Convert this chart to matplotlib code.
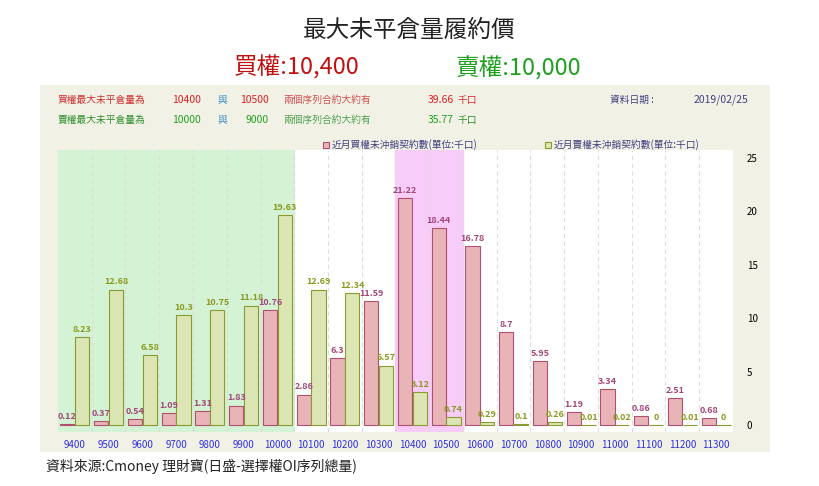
import matplotlib
matplotlib.use("Agg")
import matplotlib.pyplot as plt
from matplotlib import font_manager
import numpy as np

cjk = [f.name for f in font_manager.fontManager.ttflist if "CJK" in f.name]
pref = [nm for nm in ["Noto Sans CJK TC", "Noto Sans CJK JP", "Noto Sans CJK SC"] if nm in cjk]
if not pref:
    for path in font_manager.findSystemFonts():
        if "CJK" in path or "cjk" in path.lower():
            try:
                font_manager.fontManager.addfont(path)
            except Exception:
                pass
    cjk = [f.name for f in font_manager.fontManager.ttflist if "CJK" in f.name]
    pref = sorted(set(cjk))
plt.rcParams["font.family"] = pref + ["DejaVu Sans"]

strikes = ["9400","9500","9600","9700","9800","9900","10000","10100","10200","10300",
           "10400","10500","10600","10700","10800","10900","11000","11100","11200","11300"]
calls = [0.12,0.37,0.54,1.09,1.31,1.83,10.76,2.86,6.3,11.59,21.22,18.44,16.78,8.7,5.95,1.19,3.34,0.86,2.51,0.68]
puts = [8.23,12.68,6.58,10.3,10.75,11.18,19.63,12.69,12.34,5.57,3.12,0.74,0.29,0.1,0.26,0.01,0.02,0,0.01,0]
call_labels = ["0.12","0.37","0.54","1.09","1.31","1.83","10.76","2.86","6.3","11.59","21.22","18.44","16.78","8.7","5.95","1.19","3.34","0.86","2.51","0.68"]
put_labels = ["8.23","12.68","6.58","10.3","10.75","11.18","19.63","12.69","12.34","5.57","3.12","0.74","0.29","0.1","0.26","0.01","0.02","0","0.01","0"]
yticks = [0,5,10,15,20,25]

W, H = 819, 486
fig = plt.figure(figsize=(W/100, H/100), dpi=100)
fig.patch.set_facecolor("white")

panel = fig.add_axes([40/W, 1-452/H, 730/W, 367/H])
panel.set_facecolor("#F2F1E6")
panel.set_xticks([]); panel.set_yticks([])
for s in panel.spines.values(): s.set_visible(False)

ax = fig.add_axes([58/W, 1-432/H, 675/W, 282/H])
n = len(strikes)
x = np.arange(n)
ax.set_xlim(-0.5, n-0.5)
ax.set_ylim(-0.65, 25.75)
ax.set_facecolor("white")
ax.axvspan(-0.5, 6.5, color="#D4F2D4", zorder=0)
ax.axvspan(9.5, 11.5, color="#F8CCF8", zorder=0)
for b in np.arange(0.5, n-0.5, 1):
    ax.axvline(b, color="#DDDDDD", lw=0.8, ls=(0,(4,3)), zorder=0.5)

w = 0.42
ax.bar(x-0.22, calls, w, color="#E8B4B8", edgecolor="#B05070", lw=0.8, zorder=2)
ax.bar(x+0.22, puts, w, color="#DCE6B4", edgecolor="#8A9A30", lw=0.8, zorder=2)
for i in range(n):
    ax.text(x[i]-0.22, calls[i]+0.3, call_labels[i], ha="center", va="bottom",
            fontsize=6.5, color="#A04878", fontweight="bold", zorder=3)
    ax.text(x[i]+0.22, puts[i]+0.3, put_labels[i], ha="center", va="bottom",
            fontsize=6.5, color="#8A9A20", fontweight="bold", zorder=3)

ax.yaxis.tick_right()
ax.set_yticks(yticks)
ax.tick_params(axis="y", length=0, labelsize=7, pad=10)
ax.set_xticks(x)
ax.set_xticklabels(strikes, color="#3030E0", fontsize=7)
ax.tick_params(axis="x", length=0, pad=6)
for s in ax.spines.values(): s.set_visible(False)

fig.text(0.5, 1-30/H, "最大未平倉量履約價", ha="center", va="center", fontsize=17, color="#222222")
fig.text(297/W, 1-68/H, "買權:10,400", ha="center", va="center", fontsize=17, color="#C01010")
fig.text(519/W, 1-68/H, "賣權:10,000", ha="center", va="center", fontsize=17, color="#20A020")

fs = 7
fig.text(58/W, 1-100/H, "買權最大未平倉量為", fontsize=fs, color="#D03030", va="center")
fig.text(172/W, 1-100/H, "10400", fontsize=fs+0.5, color="#E02020", va="center")
fig.text(218/W, 1-100/H, "與", fontsize=fs, color="#4090C0", va="center")
fig.text(240/W, 1-100/H, "10500", fontsize=fs+0.5, color="#E02020", va="center")
fig.text(283/W, 1-100/H, "兩個序列合約大約有", fontsize=fs, color="#D05050", va="center")
fig.text(428/W, 1-100/H, "39.66", fontsize=fs+0.5, color="#E02020", va="center")
fig.text(458/W, 1-100/H, "千口", fontsize=fs, color="#D03030", va="center")
fig.text(610/W, 1-100/H, "資料日期 :", fontsize=fs, color="#404080", va="center")
fig.text(694/W, 1-100/H, "2019/02/25", fontsize=fs+0.5, color="#404080", va="center")

fig.text(58/W, 1-120/H, "賣權最大未平倉量為", fontsize=fs, color="#309030", va="center")
fig.text(172/W, 1-120/H, "10000", fontsize=fs+0.5, color="#20A020", va="center")
fig.text(218/W, 1-120/H, "與", fontsize=fs, color="#4090C0", va="center")
fig.text(246/W, 1-120/H, "9000", fontsize=fs+0.5, color="#20A020", va="center")
fig.text(283/W, 1-120/H, "兩個序列合約大約有", fontsize=fs, color="#50A050", va="center")
fig.text(428/W, 1-120/H, "35.77", fontsize=fs+0.5, color="#20A020", va="center")
fig.text(458/W, 1-120/H, "千口", fontsize=fs, color="#309030", va="center")

from matplotlib.patches import Rectangle
fig.patches.append(Rectangle((323/W, 1-148/H), 6/W, 6/H, transform=fig.transFigure,
                             facecolor="#E8B4B8", edgecolor="#B05070", lw=0.8))
fig.text(332/W, 1-145/H, "近月買權未沖銷契約數(單位:千口)", fontsize=fs, color="#404080", va="center")
fig.patches.append(Rectangle((545/W, 1-148/H), 6/W, 6/H, transform=fig.transFigure,
                             facecolor="#DCE6B4", edgecolor="#8A9A30", lw=0.8))
fig.text(554/W, 1-145/H, "近月賣權未沖銷契約數(單位:千口)", fontsize=fs, color="#404080", va="center")

fig.text(46/W, 1-466/H, "資料來源:Cmoney 理財寶(日盛-選擇權OI序列總量)", fontsize=10, color="#222222", va="center")

fig.savefig("out.png", dpi=100)
